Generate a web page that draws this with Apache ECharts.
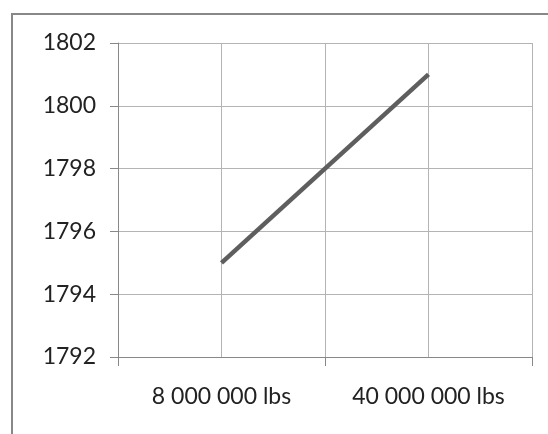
<!DOCTYPE html>
<html><head><meta charset="utf-8">
<script src="https://cdn.jsdelivr.net/npm/echarts@6/dist/echarts.min.js"></script>
<style>html,body{margin:0;padding:0;background:#fff}#c{width:548px;height:434px}</style>
</head><body><div id="c"></div>
<script>
const categories = ['8 000 000 lbs', '40 000 000 lbs'];
const values = [1795, 1801];
const yTicks = { min: 1792, max: 1802, interval: 2 };

const chart = echarts.init(document.getElementById('c'), null, { renderer: 'canvas' });
const font = 'Lato';
chart.setOption({
  animation: false,
  backgroundColor: '#fff',
  graphic: [{
    type: 'rect', shape: { x: 12, y: 14, width: 700, height: 600 },
    style: { fill: 'none', stroke: '#888888', lineWidth: 2 }, silent: true, z: 100
  }],
  grid: { left: 118, right: 16, top: 43, bottom: 77 },
  xAxis: [{
    type: 'category', data: categories, boundaryGap: true,
    axisLine: { lineStyle: { color: '#888888', width: 1 } },
    axisTick: { show: true, length: 9, lineStyle: { color: '#888888' } },
    axisLabel: { color: '#222', fontSize: 23, fontFamily: font, margin: 28 },
    splitLine: { show: false }
  }, {
    type: 'value', min: 0, max: 2, interval: 0.5, position: 'bottom',
    axisLine: { show: false }, axisTick: { show: false }, axisLabel: { show: false },
    splitLine: { show: true, lineStyle: { color: '#b4b4b4', width: 1 } }
  }],
  yAxis: {
    type: 'value', min: yTicks.min, max: yTicks.max, interval: yTicks.interval,
    axisLine: { show: true, lineStyle: { color: '#888888', width: 1 } },
    axisTick: { show: true, length: 8, lineStyle: { color: '#888888' } },
    axisLabel: { color: '#222', fontSize: 23, fontFamily: font, margin: 22, formatter: v => String(v) },
    splitLine: { show: true, lineStyle: { color: '#b4b4b4', width: 1 } }
  },
  series: [{
    type: 'line', data: values, xAxisIndex: 0,
    symbol: 'none', lineStyle: { color: '#5e5e5e', width: 4.5 }
  }]
});
</script></body></html>
